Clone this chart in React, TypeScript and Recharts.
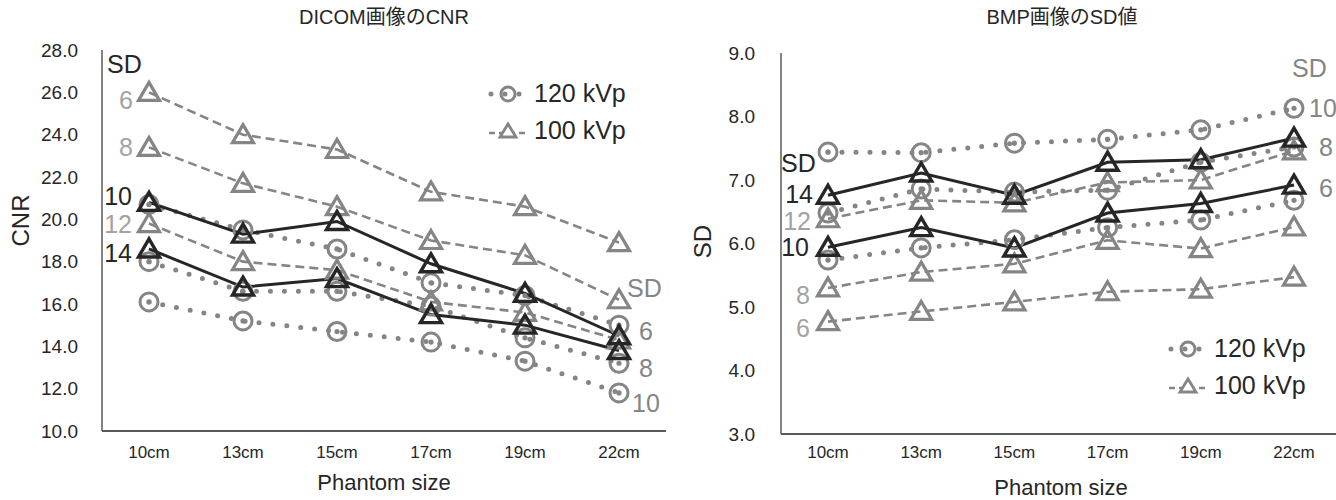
import { LineChart, Line, XAxis, YAxis, Legend, LabelList } from 'recharts';

const phantomSizes = ['10cm', '13cm', '15cm', '17cm', '19cm', '22cm'];

// DICOM画像のCNR
const cnr120Sd6 = [20.7, 19.5, 18.6, 17.0, 16.4, 15.0];
const cnr120Sd8 = [18.0, 16.6, 16.6, 15.9, 14.4, 13.2];
const cnr120Sd10 = [16.1, 15.2, 14.7, 14.2, 13.3, 11.8];
const cnr100Sd6 = [26.0, 24.0, 23.3, 21.3, 20.6, 18.9];
const cnr100Sd8 = [23.4, 21.7, 20.6, 19.0, 18.3, 16.2];
const cnr100Sd10 = [20.8, 19.3, 19.9, 17.9, 16.5, 14.5];
const cnr100Sd12 = [19.8, 18.0, 17.6, 16.1, 15.6, 14.3];
const cnr100Sd14 = [18.6, 16.8, 17.2, 15.5, 15.0, 13.8];
const cnrTicks = [10, 12, 14, 16, 18, 20, 22, 24, 26, 28];

// BMP画像のSD値
const sd120Sd10 = [7.44, 7.43, 7.58, 7.64, 7.79, 8.13];
const sd120Sd8 = [6.48, 6.86, 6.81, 6.84, 7.28, 7.52];
const sd120Sd6 = [5.74, 5.93, 6.06, 6.25, 6.37, 6.68];
const sd100Sd14 = [6.76, 7.11, 6.76, 7.28, 7.32, 7.66];
const sd100Sd12 = [6.39, 6.68, 6.64, 6.96, 7.0, 7.46];
const sd100Sd10 = [5.94, 6.25, 5.93, 6.48, 6.63, 6.92];
const sd100Sd8 = [5.3, 5.55, 5.68, 6.05, 5.92, 6.26];
const sd100Sd6 = [4.77, 4.93, 5.08, 5.24, 5.28, 5.47];
const sdTicks = [3, 4, 5, 6, 7, 8, 9];

const FONT = '"Liberation Sans", Arial, "Noto Sans CJK JP", sans-serif';
const DARK = '#262626';
const GRAY = '#858585';
const LIGHT = '#a3a3a3';
const FRAME = '#5a5a5a';

type Kind = 'circle' | 'dash' | 'solid';
type Def = {
  key: string;
  name: string;
  values: number[];
  kind: Kind;
  label: string;
  labelColor: string;
  at: 'first' | 'last';
  dx: number;
  dy: number;
  header?: { color: string; dx: number; dy: number };
};

const buildRows = (defs: Def[]) =>
  phantomSizes.map((size, i) => {
    const row: Record<string, string | number> = { size };
    defs.forEach((d) => (row[d.key] = d.values[i]));
    return row;
  });

const cnrDefs: Def[] = [
  { key: 'c6', name: '120 kVp', values: cnr120Sd6, kind: 'circle', label: '6', labelColor: GRAY, at: 'last', dx: 20, dy: 6, header: { color: GRAY, dx: 8, dy: -37 } },
  { key: 'c8', name: '120 kVp', values: cnr120Sd8, kind: 'circle', label: '8', labelColor: GRAY, at: 'last', dx: 20, dy: 5 },
  { key: 'c10', name: '120 kVp', values: cnr120Sd10, kind: 'circle', label: '10', labelColor: GRAY, at: 'last', dx: 13, dy: 10 },
  { key: 't6', name: '100 kVp', values: cnr100Sd6, kind: 'dash', label: '6', labelColor: LIGHT, at: 'first', dx: -16, dy: 8, header: { color: DARK, dx: -42, dy: -28 } },
  { key: 't8', name: '100 kVp', values: cnr100Sd8, kind: 'dash', label: '8', labelColor: LIGHT, at: 'first', dx: -16, dy: 0 },
  { key: 't12', name: '100 kVp', values: cnr100Sd12, kind: 'dash', label: '12', labelColor: LIGHT, at: 'first', dx: -17, dy: 0 },
  { key: 't10', name: '100 kVp', values: cnr100Sd10, kind: 'solid', label: '10', labelColor: DARK, at: 'first', dx: -17, dy: -6 },
  { key: 't14', name: '100 kVp', values: cnr100Sd14, kind: 'solid', label: '14', labelColor: DARK, at: 'first', dx: -17, dy: 4 },
];

const sdDefs: Def[] = [
  { key: 'c10', name: '120 kVp', values: sd120Sd10, kind: 'circle', label: '10', labelColor: GRAY, at: 'last', dx: 15, dy: 0, header: { color: GRAY, dx: -2, dy: -40 } },
  { key: 'c8', name: '120 kVp', values: sd120Sd8, kind: 'circle', label: '8', labelColor: GRAY, at: 'last', dx: 25, dy: 0 },
  { key: 'c6', name: '120 kVp', values: sd120Sd6, kind: 'circle', label: '6', labelColor: GRAY, at: 'last', dx: 25, dy: -12 },
  { key: 't12', name: '100 kVp', values: sd100Sd12, kind: 'dash', label: '12', labelColor: LIGHT, at: 'first', dx: -17, dy: 2 },
  { key: 't8', name: '100 kVp', values: sd100Sd8, kind: 'dash', label: '8', labelColor: LIGHT, at: 'first', dx: -18, dy: 7 },
  { key: 't6', name: '100 kVp', values: sd100Sd6, kind: 'dash', label: '6', labelColor: LIGHT, at: 'first', dx: -18, dy: 6 },
  { key: 't14', name: '100 kVp', values: sd100Sd14, kind: 'solid', label: '14', labelColor: DARK, at: 'first', dx: -15, dy: -1, header: { color: DARK, dx: -47, dy: -32 } },
  { key: 't10', name: '100 kVp', values: sd100Sd10, kind: 'solid', label: '10', labelColor: DARK, at: 'first', dx: -19, dy: 0 },
];

const CircleDot = (props: any) => {
  const { cx, cy } = props;
  if (cx == null || cy == null) return <g />;
  return (
    <g>
      <circle cx={cx} cy={cy} r={9} fill="none" stroke={GRAY} strokeWidth={3} />
      <circle cx={cx} cy={cy} r={2.6} fill={GRAY} />
    </g>
  );
};

const triangleDot = (color: string, width: number) => (props: any) => {
  const { cx, cy } = props;
  if (cx == null || cy == null) return <g />;
  return (
    <path
      d={`M${cx},${cy - 10} L${cx + 10.5},${cy + 8} L${cx - 10.5},${cy + 8} Z`}
      fill="none"
      stroke={color}
      strokeWidth={width}
      strokeLinejoin="miter"
    />
  );
};

const GrayTri = triangleDot(GRAY, 3.2);
const DarkTri = triangleDot(DARK, 3.4);

const sdLabel = (d: Def) => (p: any) => {
  const target = d.at === 'first' ? 0 : phantomSizes.length - 1;
  if (p.index !== target || p.x == null) return null;
  const x = Number(p.x);
  const y = Number(p.y);
  return (
    <g>
      {d.header && (
        <text x={x + d.header.dx} y={y + d.header.dy} fill={d.header.color} fontSize={25} fontFamily={FONT} textAnchor="start" dominantBaseline="central">
          SD
        </text>
      )}
      <text x={x + d.dx} y={y + d.dy} fill={d.labelColor} fontSize={25} fontFamily={FONT} textAnchor={d.at === 'first' ? 'end' : 'start'} dominantBaseline="central">
        {d.label}
      </text>
    </g>
  );
};

const renderSeries = (defs: Def[]) =>
  defs.map((d) => {
    const style =
      d.kind === 'circle'
        ? { stroke: GRAY, strokeWidth: 5, strokeDasharray: '0 14', strokeLinecap: 'round' as const, dot: CircleDot }
        : d.kind === 'dash'
        ? { stroke: GRAY, strokeWidth: 2.6, strokeDasharray: '9 5', strokeLinecap: 'butt' as const, dot: GrayTri }
        : { stroke: DARK, strokeWidth: 3, strokeDasharray: undefined, strokeLinecap: 'butt' as const, dot: DarkTri };
    return (
      <Line
        key={d.key}
        type="linear"
        dataKey={d.key}
        name={d.name}
        stroke={style.stroke}
        strokeWidth={style.strokeWidth}
        strokeDasharray={style.strokeDasharray}
        strokeLinecap={style.strokeLinecap}
        dot={style.dot}
        activeDot={false}
        isAnimationActive={false}
      >
        <LabelList dataKey={d.key} content={sdLabel(d)} />
      </Line>
    );
  });

const LegendBox = () => (
  <div style={{ fontFamily: FONT, fontSize: 25, color: DARK, lineHeight: '37px' }}>
    <div style={{ display: 'flex', alignItems: 'center', height: 37 }}>
      <svg width={42} height={24}>
        <line x1={4} y1={12} x2={38} y2={12} stroke={GRAY} strokeWidth={5} strokeDasharray="0 14" strokeLinecap="round" />
        <circle cx={21} cy={12} r={7} fill="none" stroke={GRAY} strokeWidth={3} />
      </svg>
      <span style={{ marginLeft: 5 }}>120 kVp</span>
    </div>
    <div style={{ display: 'flex', alignItems: 'center', height: 37 }}>
      <svg width={42} height={24}>
        <line x1={2} y1={14} x2={40} y2={14} stroke={GRAY} strokeWidth={2.6} strokeDasharray="6 4" />
        <path d="M21,5 L29,18 L13,18 Z" fill="white" stroke={GRAY} strokeWidth={2.8} />
      </svg>
      <span style={{ marginLeft: 5 }}>100 kVp</span>
    </div>
  </div>
);

const YTitle = (props: any) => {
  const { viewBox, text, posX, shiftY } = props;
  const cy = viewBox ? viewBox.y + viewBox.height / 2 + shiftY : 240;
  return (
    <text x={posX} y={cy} transform={`rotate(-90 ${posX} ${cy})`} textAnchor="middle" dominantBaseline="central" fontSize={24} fontFamily={FONT} fill={DARK}>
      {text}
    </text>
  );
};

const XTitle = (props: any) => {
  const { viewBox, shiftX, shiftY } = props;
  const cx = viewBox ? viewBox.x + viewBox.width / 2 + shiftX : 380;
  const cy = viewBox ? viewBox.y + shiftY : 480;
  return (
    <text x={cx} y={cy} textAnchor="middle" dominantBaseline="central" fontSize={22} fontFamily={FONT} fill={DARK}>
      Phantom size
    </text>
  );
};

type PanelProps = {
  defs: Def[];
  ticks: number[];
  domain: [number, number];
  decimals: number;
  yTitle: string;
  yTitleX: number;
  yTitleShift: number;
  margin: { top: number; right: number; bottom: number; left: number };
  yWidth: number;
  yTickMargin: number;
  xHeight: number;
  xPad: number;
  xTickMargin: number;
  xTitleShiftX: number;
  xTitleShiftY: number;
  legendTop: number;
};

const Panel = (p: PanelProps) => (
  <LineChart width={680} height={500} data={buildRows(p.defs)} margin={p.margin}>
    <XAxis
      dataKey="size"
      tickLine={false}
      tickSize={0}
      tickMargin={p.xTickMargin}
      height={p.xHeight}
      padding={{ left: p.xPad, right: p.xPad }}
      axisLine={{ stroke: FRAME, strokeWidth: 2 }}
      tick={{ fill: DARK, fontSize: 17, fontFamily: FONT }}
      label={<XTitle shiftX={p.xTitleShiftX} shiftY={p.xTitleShiftY} />}
    />
    <XAxis xAxisId="top" dataKey="size" orientation="top" height={0} tick={false} tickLine={false} axisLine={{ stroke: FRAME, strokeWidth: 1.5 }} />
    <YAxis
      type="number"
      domain={p.domain}
      ticks={p.ticks}
      interval={0}
      width={p.yWidth}
      tickLine={false}
      tickSize={0}
      tickMargin={p.yTickMargin}
      axisLine={{ stroke: FRAME, strokeWidth: 1.5 }}
      tickFormatter={(v: number) => v.toFixed(p.decimals)}
      tick={{ fill: DARK, fontSize: 19, fontFamily: FONT }}
      label={<YTitle text={p.yTitle} posX={p.yTitleX} shiftY={p.yTitleShift} />}
    />
    <YAxis yAxisId="right" orientation="right" width={0} domain={p.domain} tick={false} tickLine={false} axisLine={{ stroke: FRAME, strokeWidth: 1.5 }} />
    <Legend
      layout="horizontal"
      verticalAlign="middle"
      align="center"
      content={() => <LegendBox />}
      wrapperStyle={{ top: p.legendTop, left: 487, width: 'auto', height: 'auto' }}
    />
    {renderSeries(p.defs)}
  </LineChart>
);

const titleStyle = (center: number): React.CSSProperties => ({
  position: 'absolute',
  top: 4,
  left: center - 150,
  width: 300,
  textAlign: 'center',
  fontFamily: FONT,
  fontSize: 20,
  color: DARK,
  lineHeight: '26px',
});

export default function App() {
  return (
    <div style={{ position: 'fixed', left: 0, top: 0, width: 1336, height: 500, overflow: 'hidden', background: '#fff' }}>
      <div style={titleStyle(384)}>DICOM画像のCNR</div>
      <div style={titleStyle(1062)}>BMP画像のSD値</div>
      <div style={{ position: 'absolute', left: 0, top: 0 }}>
        <Panel
          defs={cnrDefs}
          ticks={cnrTicks}
          domain={[10, 28]}
          decimals={1}
          yTitle="CNR"
          yTitleX={20}
          yTitleShift={-20}
          margin={{ top: 50, right: 14, bottom: 0, left: 0 }}
          yWidth={102}
          yTickMargin={24}
          xHeight={69}
          xPad={47}
          xTickMargin={15}
          xTitleShiftX={0}
          xTitleShiftY={51}
          legendTop={75}
        />
      </div>
      <div style={{ position: 'absolute', left: 680, top: 0 }}>
        <Panel
          defs={sdDefs}
          ticks={sdTicks}
          domain={[3, 9]}
          decimals={1}
          yTitle="SD"
          yTitleX={22}
          yTitleShift={-2}
          margin={{ top: 53, right: 19, bottom: 0, left: 0 }}
          yWidth={101}
          yTickMargin={26}
          xHeight={66}
          xPad={47}
          xTickMargin={12}
          xTitleShiftX={0}
          xTitleShiftY={53}
          legendTop={330}
        />
      </div>
    </div>
  );
}
